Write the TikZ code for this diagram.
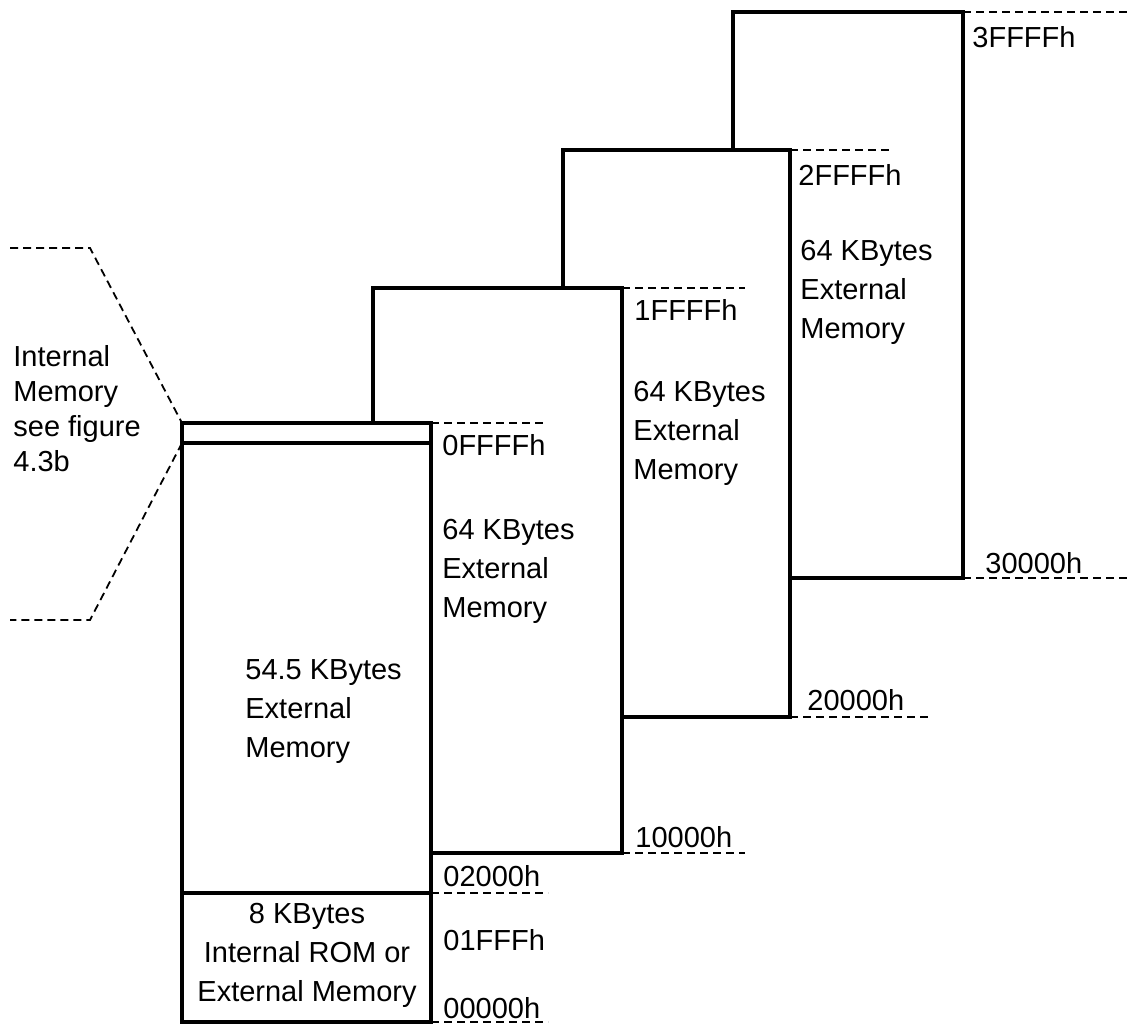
\documentclass[tikz,border=0pt]{standalone}
\usepackage{fontspec}
\setmainfont{Liberation Sans}
\begin{document}
\begin{tikzpicture}[x=0.5pt,y=-0.5pt,
  box/.style={line width=2pt, line join=miter, line cap=rect},
  guide/.style={line width=0.9pt, dash pattern=on 4pt off 2.5pt},
  lbl/.style={inner sep=0pt, anchor=west, font=\fontsize{14.5}{19.5}\selectfont, align=left},
  clbl/.style={inner sep=0pt, anchor=center, font=\fontsize{14.5}{19.5}\selectfont, align=center},
  tlbl/.style={inner sep=0pt, anchor=west, font=\fontsize{14.5}{17.5}\selectfont, align=left},
]
\useasboundingbox (0,0) rectangle (1130,1028);
% corners
\coordinate (b0tl) at (182,423);  \coordinate (b0tr) at (431,423);
\coordinate (b0bl) at (182,1022); \coordinate (b0br) at (431,1022);
\coordinate (b0il) at (182,443);  \coordinate (b0ir) at (431,443);
\coordinate (b0dl) at (182,893);  \coordinate (b0dr) at (431,893);
\coordinate (b1s) at (373,423); \coordinate (b1tl) at (373,288); \coordinate (b1tr) at (622,288);
\coordinate (b1br) at (622,853); \coordinate (b1j) at (431,853);
\coordinate (b2s) at (563,288); \coordinate (b2tl) at (563,150); \coordinate (b2tr) at (790,150);
\coordinate (b2br) at (790,717); \coordinate (b2j) at (622,717);
\coordinate (b3s) at (733,150); \coordinate (b3tl) at (733,12); \coordinate (b3tr) at (963,12);
\coordinate (b3br) at (963,578); \coordinate (b3j) at (790,578);
% guide ends
\coordinate (g0t) at (547,423); \coordinate (g1t) at (745,288); \coordinate (g2t) at (893,150); \coordinate (g3t) at (1130,12);
\coordinate (g0d) at (548,893); \coordinate (g0b) at (548,1022); \coordinate (g1b) at (745,853);
\coordinate (g2b) at (930,717); \coordinate (g3b) at (1130,578);
\coordinate (c1) at (10,248); \coordinate (c2) at (90,248); \coordinate (c3) at (90,620); \coordinate (c4) at (10,620);

% boxes
\draw[box] (b0tl) rectangle (b0br);
\draw[box] (b0il) -- (b0ir);
\draw[box] (b0dl) -- (b0dr);
\draw[box] (b1s) -- (b1tl) -- (b1tr) -- (b1br) -- (b1j);
\draw[box] (b2s) -- (b2tl) -- (b2tr) -- (b2br) -- (b2j);
\draw[box] (b3s) -- (b3tl) -- (b3tr) -- (b3br) -- (b3j);

% guides
\draw[guide] (b0tr) -- (g0t);
\draw[guide] (b1tr) -- (g1t);
\draw[guide] (b2tr) -- (g2t);
\draw[guide] (b3tr) -- (g3t);
\draw[guide] (b0dr) -- (g0d);
\draw[guide] (b0br) -- (g0b);
\draw[guide] (b1br) -- (g1b);
\draw[guide] (b2br) -- (g2b);
\draw[guide] (b3br) -- (g3b);
\draw[guide] (c1) -- (c2) -- (b0tl);
\draw[guide] (b0il) -- (c3) -- (c4);

% address labels
\node[lbl] (a3t) at (972,37) {3FFFFh};
\node[lbl] (a2t) at (798,175) {2FFFFh};
\node[lbl] (a1t) at (634,310) {1FFFFh};
\node[lbl] (a0t) at (442,445) {0FFFFh};
\node[lbl] (a3b) at (985,563) {30000h};
\node[lbl] (a2b) at (807,700) {20000h};
\node[lbl] (a1b) at (635,837) {10000h};
\node[lbl] (a0d) at (443,876) {02000h};
\node[lbl] (a0m) at (443,940) {01FFFh};
\node[lbl] (a0b) at (443,1008) {00000h};

% block texts
\node[lbl] (t3) at (800,292) {64 KBytes\\External\\Memory};
\node[lbl] (t2) at (633,433) {64 KBytes\\External\\Memory};
\node[lbl] (t1) at (442,571) {64 KBytes\\External\\Memory};
\node[lbl] (t0) at (245,712) {54.5 KBytes\\External\\Memory};
\node[clbl] (trom) at (307,955) {8 KBytes\\Internal ROM or\\External Memory};
\node[tlbl] (tint) at (13,409) {Internal\\Memory\\see figure\\4.3b};
\end{tikzpicture}
\end{document}
